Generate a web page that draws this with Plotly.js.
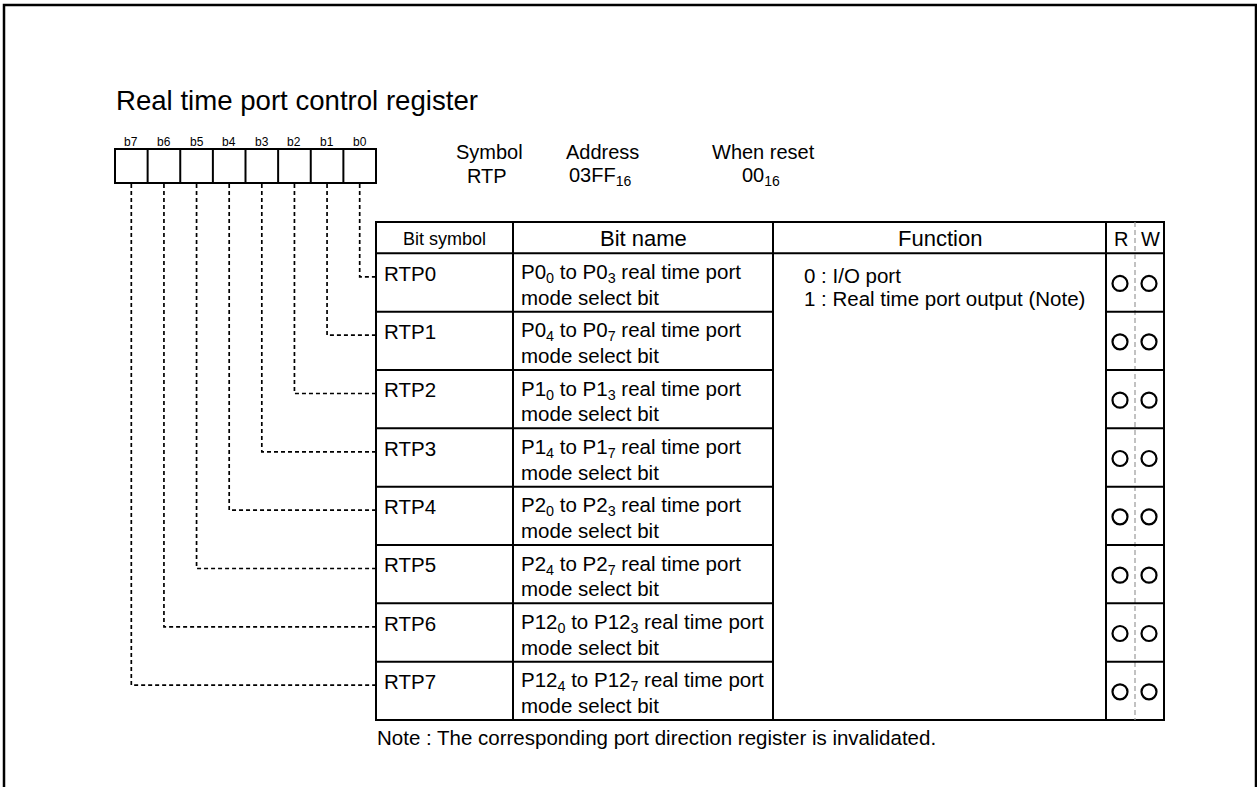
<!DOCTYPE html>
<html>
<head>
<meta charset="utf-8">
<script src="https://cdn.plot.ly/plotly-3.0.1.min.js"></script>
<style>html,body{margin:0;padding:0;background:#fff;}#chart{width:1257px;height:787px;}</style>
</head>
<body>
<div id="chart"></div>
<script>
// ---- data ----
const titleText = 'Real time port control register';
const bitLabels = ['b7', 'b6', 'b5', 'b4', 'b3', 'b2', 'b1', 'b0'];
const infoHeaders = ['Symbol', 'Address', 'When reset'];
const infoValues = ['RTP', '03FF<sub>16</sub>', '00<sub>16</sub>'];
const tableHeaders = ['Bit symbol', 'Bit name', 'Function', 'R', 'W'];
const bitSymbols = ['RTP0', 'RTP1', 'RTP2', 'RTP3', 'RTP4', 'RTP5', 'RTP6', 'RTP7'];
const bitNameLine1 = [
  'P0<sub>0</sub> to P0<sub>3</sub> real time port',
  'P0<sub>4</sub> to P0<sub>7</sub> real time port',
  'P1<sub>0</sub> to P1<sub>3</sub> real time port',
  'P1<sub>4</sub> to P1<sub>7</sub> real time port',
  'P2<sub>0</sub> to P2<sub>3</sub> real time port',
  'P2<sub>4</sub> to P2<sub>7</sub> real time port',
  'P12<sub>0</sub> to P12<sub>3</sub> real time port',
  'P12<sub>4</sub> to P12<sub>7</sub> real time port'
];
const bitNameLine2 = ['mode select bit', 'mode select bit', 'mode select bit', 'mode select bit',
  'mode select bit', 'mode select bit', 'mode select bit', 'mode select bit'];
const functionLines = ['0 : I/O port', '1 : Real time port output (Note)'];
const readable = [true, true, true, true, true, true, true, true];
const writable = [true, true, true, true, true, true, true, true];
const noteText = 'Note : The corresponding port direction register is invalidated.';

// ---- layout geometry ----
const W = 1257, H = 787;
const FONT = 'Liberation Sans, Arial, Helvetica, sans-serif';
const BODY = 20.5;
const boxX0 = 115, boxX1 = 376, boxY0 = 149, boxY1 = 183;
const cellW = (boxX1 - boxX0) / 8;
const colX = [376, 513, 773, 1106, 1164];
const rwMid = 1135;
const rX = 1120, wX = 1149;
const tTop = 222, hBot = 253.3, tBot = 720;
const rowH = (tBot - hBot) / bitSymbols.length;
const rowTop = i => hBot + i * rowH;

const shapes = [];
const annotations = [];
const line = (x0, y0, x1, y1, w, extra) => shapes.push(Object.assign({
  type: 'line', xref: 'x', yref: 'y', x0, y0, x1, y1,
  line: {color: '#000', width: w}
}, extra || {}));
const text = (x, y, t, size, xanchor) => annotations.push({
  xref: 'x', yref: 'y', x, y, text: t, showarrow: false,
  xanchor: xanchor || 'center', yanchor: 'middle', borderpad: 0,
  font: {family: FONT, size, color: '#000'}
});

// outer frame (top, left, right)
shapes.push({type: 'path', xref: 'x', yref: 'y', path: 'M 4,790 L 4,5 L 1256,5 L 1256,790',
  line: {color: '#000', width: 2.5}});

// title
text(115, 100, titleText, 27.6, 'left');

// bit box
shapes.push({type: 'rect', xref: 'x', yref: 'y', x0: boxX0, x1: boxX1, y0: boxY0, y1: boxY1,
  line: {color: '#000', width: 2}});
bitLabels.forEach((b, k) => {
  if (k > 0) line(boxX0 + k * cellW, boxY0, boxX0 + k * cellW, boxY1, 2);
  text(boxX0 + (k + 0.5) * cellW, 141.5, b, 12);
});

// symbol / address / reset
const infoX = [489, 602, 763];
infoHeaders.forEach((h, k) => {
  text(infoX[k], 152, h, 20);
  text(infoX[k] - 2.5, 176, infoValues[k], 20);
});

// dashed connectors
bitSymbols.forEach((s, i) => {
  const k = bitLabels.length - 1 - i;
  const cx = boxX0 + (k + 0.5) * cellW;
  const cy = rowTop(i) + 23.5;
  shapes.push({type: 'path', xref: 'x', yref: 'y', path: `M ${cx},${boxY1 + 1} L ${cx},${cy} L ${colX[0]},${cy}`,
    line: {color: '#000', width: 1.7, dash: '4px,3px'}});
});

// table outer and grid
shapes.push({type: 'rect', xref: 'x', yref: 'y', x0: colX[0], x1: colX[4], y0: tTop, y1: tBot,
  line: {color: '#000', width: 2}});
line(colX[0], hBot, colX[4], hBot, 2);
[1, 2, 3].forEach(c => line(colX[c], tTop, colX[c], tBot, 2));
line(rwMid, tTop, rwMid, tBot, 1.2, {line: {color: '#9a9a9a', width: 1.2, dash: '5px,3px'}});
for (let i = 1; i < bitSymbols.length; i++) {
  line(colX[0], rowTop(i), colX[2], rowTop(i), 2);
  line(colX[3], rowTop(i), colX[4], rowTop(i), 2);
}

// headers
const hy = (tTop + hBot) / 2 + 1;
text((colX[0] + colX[1]) / 2, hy, tableHeaders[0], 18);
text((colX[1] + colX[2]) / 2, hy, tableHeaders[1], 22);
text((colX[2] + colX[3]) / 2, hy, tableHeaders[2], 22);
text(rX + 1, hy, tableHeaders[3], 20);
text(wX + 1, hy, tableHeaders[4], 20);

// rows
bitSymbols.forEach((s, i) => {
  const t = rowTop(i);
  text(382.5, t + 19.8, s, BODY, 'left');
  text(519.5, t + 19.8, bitNameLine1[i], BODY, 'left');
  text(519.5, t + 44, bitNameLine2[i], BODY, 'left');
});
functionLines.forEach((f, j) => text(803, rowTop(0) + 22 + j * 23.5, f, BODY, 'left'));

text(375.5, 737, noteText, BODY, 'left');

// R / W circles as markers
const rx = [], ry = [];
bitSymbols.forEach((s, i) => {
  const cy = rowTop(i) + rowH / 2 + 1;
  if (readable[i]) { rx.push(rX); ry.push(cy); }
  if (writable[i]) { rx.push(wX); ry.push(cy); }
});
const traces = [{
  type: 'scatter', mode: 'markers', x: rx, y: ry, hoverinfo: 'skip',
  marker: {symbol: 'circle-open', size: 15, color: '#000', line: {width: 2.2, color: '#000'}}
}];

const layout = {
  width: W, height: H, margin: {l: 0, r: 0, t: 0, b: 0},
  paper_bgcolor: '#fff', plot_bgcolor: '#fff', showlegend: false,
  xaxis: {range: [0, W], visible: false, fixedrange: true},
  yaxis: {range: [H, 0], visible: false, fixedrange: true},
  shapes, annotations
};
Plotly.newPlot('chart', traces, layout, {staticPlot: true, displayModeBar: false});
</script>
</body>
</html>
